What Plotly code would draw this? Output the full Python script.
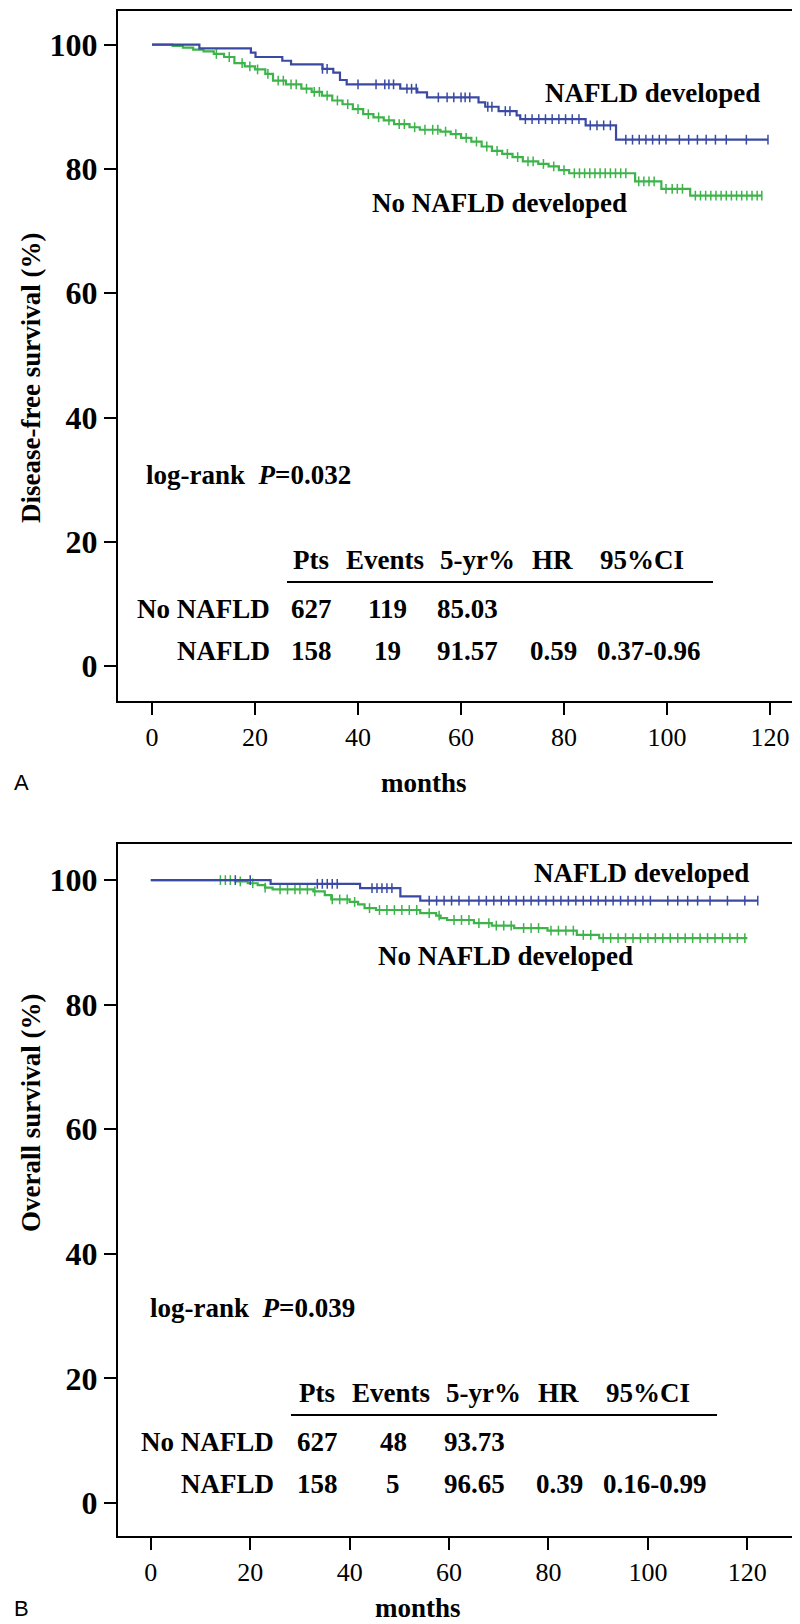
import plotly.graph_objects as go

# ---------------- data ----------------
# Panel A: disease-free survival, step points (months, %)
dfs_nafld_t = [0, 9.2, 19.2, 20.1, 25.3, 27.0, 33.1, 35.2, 36.5, 37.8, 48.2, 51.5, 53.4,
               63.4, 64.7, 67.3, 70.8, 71.5, 84.2, 90.1, 119.6]
dfs_nafld_s = [100, 99.4, 98.7, 98.0, 97.4, 96.8, 96.1, 95.5, 94.3, 93.6, 92.9, 92.3, 91.5,
               90.7, 90.0, 89.3, 88.6, 88.0, 87.0, 84.7, 84.7]
dfs_nafld_cens = [33.1, 34.0, 40.0, 43.5, 45.2, 46.0, 46.9, 49.5, 50.4, 51.3, 55.6, 57.3, 58.6,
                  60.0, 60.8, 61.7, 65.2, 66.0, 68.6, 69.5, 72.5, 73.8, 75.1, 76.4, 77.7, 79.0,
                  80.3, 81.6, 82.9, 85.1, 86.4, 87.7, 89.0, 92.0, 93.3, 94.6, 95.9, 97.2, 98.5,
                  99.8, 102.4, 104.2, 105.9, 107.6, 109.4, 111.5, 115.4, 119.6]

dfs_no_t = [0, 4, 6, 8, 10, 12, 14, 16, 18, 20, 22, 23.5, 26, 29, 31, 33, 35, 37, 39, 41, 43,
            45, 47, 50, 52, 56, 58, 60, 62, 64, 66, 68, 70, 72, 75, 77, 79, 81, 93.8, 98.9,
            104.5, 118.4]
dfs_no_s = [100, 99.8, 99.5, 99.2, 98.9, 98.5, 98.0, 97.0, 96.5, 96.0, 95.3, 94.2, 93.6, 92.9,
            92.4, 91.8, 91.0, 90.4, 89.6, 88.8, 88.3, 87.8, 87.2, 86.7, 86.3, 86.0, 85.6, 85.0,
            84.4, 83.6, 82.9, 82.4, 81.9, 81.2, 80.8, 80.4, 79.8, 79.3, 78.0, 76.8, 75.7, 75.7]
dfs_no_cens = [12.5, 15.0, 17.5, 19.0, 20.5, 22.5, 24.5, 25.5, 27.0, 28.0, 30.0, 31.5, 32.5,
               34.0, 36.0, 38.0, 40.0, 42.0, 44.0, 46.0, 48.0, 49.0, 51.0, 53.0, 54.5, 55.5,
               57.0, 59.0, 61.0, 63.0, 65.0, 67.0, 69.0, 71.0, 73.0, 74.0, 76.0, 78.0, 80.0,
               82.0, 83.0, 84.0, 85.0, 86.0, 87.0, 88.0, 89.0, 90.0, 91.0, 92.0, 94.5, 95.5,
               96.5, 97.5, 99.8, 101.0, 102.0, 103.0, 105.5, 106.5, 107.5, 108.5, 109.5, 110.5,
               111.5, 112.5, 113.5, 114.5, 115.5, 116.5, 117.5, 118.4]

# Panel B: overall survival
os_nafld_t = [0, 24.1, 42.1, 50.2, 54.2, 122.1]
os_nafld_s = [100, 99.4, 98.7, 97.4, 96.7, 96.7]
os_nafld_cens = [17.0, 20.0, 33.5, 34.5, 35.5, 36.5, 37.5, 44.5, 45.5, 46.5, 47.5, 48.5, 56.0,
                 57.5, 59.0, 60.5, 62.0, 64.0, 66.0, 67.5, 69.0, 70.5, 72.0, 73.5, 75.0, 76.5,
                 78.0, 79.5, 81.0, 82.5, 84.0, 85.5, 87.0, 88.5, 90.0, 91.5, 93.0, 94.5, 96.0,
                 97.5, 99.0, 100.5, 104.0, 106.0, 108.0, 110.0, 112.5, 116.0, 119.5, 122.1]

os_no_t = [0, 17.0, 19.5, 21.5, 23.0, 24.5, 32.7, 35.0, 36.3, 40.0, 41.7, 43.0, 45.3, 54.2,
           57.4, 58.3, 59.6, 65.0, 68.6, 73.1, 79.8, 85.7, 90.2, 120.0]
os_no_s = [100, 99.8, 99.5, 99.2, 98.8, 98.5, 98.2, 97.6, 96.9, 96.5, 96.1, 95.5, 95.2, 94.7,
           94.3, 93.9, 93.6, 93.1, 92.7, 92.3, 91.9, 91.2, 90.7, 90.7]
os_no_cens = [14.0, 15.0, 16.0, 18.0, 20.5, 23.0, 26.0, 27.5, 29.0, 30.0, 31.5, 33.0, 36.5,
              38.0, 39.5, 41.0, 44.0, 46.0, 47.5, 49.0, 50.5, 52.0, 53.5, 56.0, 58.0, 61.0,
              62.5, 64.0, 66.0, 68.0, 69.5, 71.0, 72.5, 75.0, 76.5, 78.0, 80.5, 82.0, 83.5,
              85.0, 87.0, 88.5, 91.0, 92.5, 94.0, 95.5, 97.0, 98.5, 100.0, 101.5, 103.0, 104.5,
              106.0, 107.5, 109.0, 110.5, 112.0, 113.5, 115.0, 116.5, 118.0, 119.5]

x_ticks = [0, 20, 40, 60, 80, 100, 120]
y_ticks = [0, 20, 40, 60, 80, 100]

table_header = ["Pts", "Events", "5-yr%", "HR", "95%CI"]
row_labels = ["No NAFLD", "NAFLD"]
dfs_rows = [["627", "119", "85.03", "", ""], ["158", "19", "91.57", "0.59", "0.37-0.96"]]
os_rows = [["627", "48", "93.73", "", ""], ["158", "5", "96.65", "0.39", "0.16-0.99"]]
dfs_p = "0.032"
os_p = "0.039"

# ---------------- styling ----------------
W, H = 800, 1624
BLUE = "#3a4aa3"
GREEN = "#3db34a"
SERIF = "Liberation Serif, Times New Roman, serif"
FS = 27


def km_at(ts, ss, t):
    v = ss[0]
    for ti, si in zip(ts, ss):
        if ti <= t:
            v = si
    return v


def px(x):
    return x / W


def py(y):
    return 1 - y / H


fig = go.Figure()

panels = [
    ("x", "y", dfs_no_t, dfs_no_s, dfs_no_cens, dfs_nafld_t, dfs_nafld_s, dfs_nafld_cens),
    ("x2", "y2", os_no_t, os_no_s, os_no_cens, os_nafld_t, os_nafld_s, os_nafld_cens),
]
for xa, ya, nt, ns, nc, at, as_, ac in panels:
    for ts, ss, cs, col in [(nt, ns, nc, GREEN), (at, as_, ac, BLUE)]:
        fig.add_trace(go.Scatter(x=ts, y=ss, mode="lines", line=dict(color=col, width=2.2, shape="hv"),
                                 xaxis=xa, yaxis=ya, showlegend=False, hoverinfo="skip"))
        fig.add_trace(go.Scatter(x=cs, y=[km_at(ts, ss, c) for c in cs], mode="markers",
                                 marker=dict(symbol="line-ns-open", size=7, color=col,
                                             line=dict(color=col, width=1.5)),
                                 xaxis=xa, yaxis=ya, showlegend=False, hoverinfo="skip"))


def xaxis_cfg(dom, rng, anchor):
    return dict(domain=dom, range=rng, tickvals=x_ticks, ticks="outside", ticklen=12, tickwidth=2,
                tickcolor="black", showline=True, mirror=True, linecolor="black", linewidth=2,
                showgrid=False, zeroline=False, anchor=anchor,
                tickfont=dict(family=SERIF, size=26, color="black"))


def yaxis_cfg(dom, rng, anchor):
    return dict(domain=dom, range=rng, tickvals=y_ticks, ticks="outside", ticklen=12, tickwidth=2,
                tickcolor="black", showline=True, mirror=True, linecolor="black", linewidth=2,
                showgrid=False, zeroline=False, anchor=anchor,
                tickfont=dict(family=SERIF, size=32, color="black", weight="bold"))


fig.update_layout(
    width=W, height=H, margin=dict(l=0, r=0, t=0, b=0),
    paper_bgcolor="white", plot_bgcolor="white",
    xaxis=xaxis_cfg([px(110), px(795)], [-6.6, 126.4], "y"),
    yaxis=yaxis_cfg([py(693), py(3)], [-5.6, 105.4], "x"),
    xaxis2=xaxis_cfg([px(110), px(796)], [-6.6, 131.4], "y2"),
    yaxis2=yaxis_cfg([py(1528), py(836)], [-5.3, 105.8], "x2"),
)

ann = []
shapes = []


def txt(x, y, s, xanchor="center", size=FS, bold=True, family=SERIF):
    ann.append(dict(x=px(x), y=py(y), xref="paper", yref="paper", text=s, showarrow=False,
                    xanchor=xanchor, yanchor="middle",
                    font=dict(family=family, size=size, color="black",
                              weight="bold" if bold else "normal")))


def panel_text(off, xoff, rows, pval, ytitle, ycenter, letter, months_y, months_x,
               nafld_lbl, no_lbl):
    # curve labels
    txt(nafld_lbl[0], nafld_lbl[1], "NAFLD developed", xanchor="left")
    txt(no_lbl[0], no_lbl[1], "No NAFLD developed", xanchor="left")
    # log-rank
    txt(136 + xoff, off + 467, "log-rank  <i>P</i>=" + pval, xanchor="left", size=27)
    # table header
    hx = [303, 377, 469, 544, 634]
    for h, xx in zip(table_header, hx):
        txt(xx + xoff * 1.6, off + 552, h, size=27)
    shapes.append(dict(type="line", xref="paper", yref="paper",
                       x0=px(279 + xoff), x1=px(705 + xoff), y0=py(off + 574), y1=py(off + 574),
                       line=dict(color="black", width=2)))
    cx = [303, 379, 460, 545, 641]
    ry = [off + 601, off + 643]
    for lab, r, yy in zip(row_labels, rows, ry):
        txt(264 + xoff, yy, lab, xanchor="right", size=27)
        for v, xx in zip(r, cx):
            if v:
                txt(xx + xoff * 1.6, yy, v, size=27)
    # y title
    ann.append(dict(x=px(23), y=py(ycenter), xref="paper", yref="paper", text=ytitle,
                    showarrow=False, textangle=-90, xanchor="center", yanchor="middle",
                    font=dict(family=SERIF, size=FS, color="black", weight="bold")))
    txt(months_x, months_y, "months", size=27)
    txt(4, months_y, letter, xanchor="left", size=22, bold=False,
        family="Liberation Sans, Arial, sans-serif")


panel_text(0, 0, dfs_rows, dfs_p, "Disease-free survival (%)", 370, "A", 775, 416,
           (535, 85), (362, 195))
panel_text(833, 4, os_rows, os_p, "Overall survival (%)", 1105, "B", 1600, 410,
           (524, 865), (368, 948))

fig.update_layout(annotations=ann, shapes=shapes)
fig.write_html("out.html")
